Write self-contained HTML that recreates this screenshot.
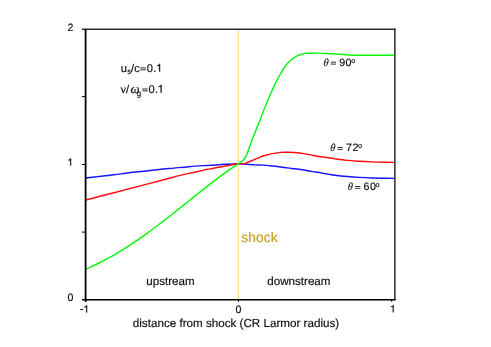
<!DOCTYPE html>
<html><head><meta charset="utf-8"><style>
html,body{margin:0;padding:0;background:#fff;}
svg{display:block;}
text{text-rendering:geometricPrecision;font-family:"Liberation Sans",sans-serif;fill:#111;stroke:#111;stroke-width:0.18px;}
.se{font-family:"Liberation Serif",serif;}
</style></head><body>
<svg style="will-change:transform" width="491" height="347" viewBox="0 0 491 347">
<rect width="491" height="347" fill="#fff"/>
<line x1="238.4" y1="29" x2="238.4" y2="299.5" stroke="#ffe28c" stroke-width="1.2"/>
<path d="M85.60,177.95 C88.00,177.69 95.27,176.93 100.00,176.40 C104.73,175.88 109.17,175.40 114.00,174.80 C118.83,174.20 124.00,173.40 129.00,172.80 C134.00,172.20 139.00,171.75 144.00,171.20 C149.00,170.65 154.00,170.02 159.00,169.50 C164.00,168.98 169.00,168.57 174.00,168.10 C179.00,167.63 184.00,167.11 189.00,166.70 C194.00,166.29 200.50,165.87 204.00,165.65 C207.50,165.43 206.50,165.62 210.00,165.40 C213.50,165.18 220.25,164.58 225.00,164.30 C229.75,164.02 234.83,163.70 238.50,163.70 C242.17,163.70 244.25,164.11 247.00,164.30 C249.75,164.49 252.23,164.72 255.00,164.85 C257.77,164.98 260.72,164.91 263.60,165.10 C266.48,165.29 269.42,165.68 272.30,166.00 C275.18,166.32 278.02,166.69 280.90,167.05 C283.78,167.41 287.25,167.86 289.60,168.15 C291.95,168.44 292.67,168.50 295.00,168.80 C297.33,169.10 300.72,169.48 303.60,169.95 C306.48,170.42 309.42,171.11 312.30,171.60 C315.18,172.09 318.02,172.43 320.90,172.90 C323.78,173.37 327.25,174.01 329.60,174.40 C331.95,174.79 332.07,174.90 335.00,175.25 C337.93,175.60 343.13,176.14 347.20,176.50 C351.27,176.86 355.32,177.15 359.40,177.40 C363.48,177.65 367.62,177.86 371.70,178.00 C375.78,178.14 380.10,178.19 383.90,178.25 C387.70,178.31 392.73,178.34 394.50,178.36" fill="none" stroke="#1414ff" stroke-width="1.45" stroke-linejoin="round"/>
<path d="M85.60,200.00 C88.00,199.38 95.27,197.52 100.00,196.30 C104.73,195.08 109.17,193.95 114.00,192.70 C118.83,191.45 124.00,190.10 129.00,188.80 C134.00,187.50 139.00,186.20 144.00,184.90 C149.00,183.60 154.00,182.32 159.00,181.00 C164.00,179.68 169.00,178.22 174.00,176.95 C179.00,175.68 184.00,174.54 189.00,173.40 C194.00,172.26 200.50,170.85 204.00,170.10 C207.50,169.35 206.50,169.58 210.00,168.90 C213.50,168.22 220.25,166.87 225.00,166.00 C229.75,165.13 235.83,164.05 238.50,163.70 C241.17,163.35 240.25,163.85 241.00,163.90 C241.75,163.95 242.33,164.05 243.00,164.00 C243.67,163.95 244.33,163.82 245.00,163.60 C245.67,163.38 246.33,163.02 247.00,162.70 C247.67,162.38 248.33,162.00 249.00,161.70 C249.67,161.40 250.00,161.30 251.00,160.90 C252.00,160.50 253.57,159.90 255.00,159.30 C256.43,158.70 258.17,157.88 259.60,157.30 C261.03,156.72 262.15,156.25 263.60,155.80 C265.05,155.35 266.85,154.96 268.30,154.60 C269.75,154.24 270.87,153.93 272.30,153.65 C273.73,153.37 275.47,153.11 276.90,152.90 C278.33,152.69 279.60,152.51 280.90,152.40 C282.20,152.29 283.25,152.28 284.70,152.25 C286.15,152.22 287.88,152.15 289.60,152.20 C291.32,152.25 292.67,152.32 295.00,152.55 C297.33,152.78 300.72,153.16 303.60,153.60 C306.48,154.04 309.42,154.68 312.30,155.20 C315.18,155.72 318.02,156.23 320.90,156.70 C323.78,157.17 327.25,157.64 329.60,158.00 C331.95,158.36 332.07,158.45 335.00,158.85 C337.93,159.25 343.13,160.00 347.20,160.40 C351.27,160.80 355.32,161.01 359.40,161.25 C363.48,161.49 367.62,161.69 371.70,161.85 C375.78,162.01 380.10,162.12 383.90,162.20 C387.70,162.28 392.73,162.32 394.50,162.35" fill="none" stroke="#ff0c0c" stroke-width="1.45" stroke-linejoin="round"/>
<path d="M85.60,269.34 C86.60,268.89 89.60,267.57 91.60,266.64 C93.60,265.71 95.60,264.75 97.60,263.76 C99.60,262.77 101.60,261.75 103.60,260.69 C105.60,259.64 107.60,258.56 109.60,257.44 C111.60,256.33 113.60,255.19 115.60,254.01 C117.60,252.84 119.60,251.64 121.60,250.41 C123.60,249.18 125.60,247.91 127.60,246.63 C129.60,245.34 131.60,244.03 133.60,242.69 C135.60,241.35 137.60,239.99 139.60,238.60 C141.60,237.21 143.60,235.80 145.60,234.36 C147.60,232.93 149.60,231.47 151.60,230.00 C153.60,228.53 155.60,227.03 157.60,225.52 C159.60,224.01 161.60,222.48 163.60,220.94 C165.60,219.40 167.60,217.84 169.60,216.27 C171.60,214.70 173.60,213.12 175.60,211.54 C177.60,209.95 179.60,208.35 181.60,206.76 C183.60,205.16 185.60,203.55 187.60,201.95 C189.60,200.35 191.60,198.74 193.60,197.14 C195.60,195.54 197.60,193.93 199.60,192.34 C201.60,190.75 203.60,189.17 205.60,187.60 C207.60,186.03 209.60,184.46 211.60,182.92 C213.60,181.38 215.60,179.85 217.60,178.35 C219.60,176.84 221.60,175.36 223.60,173.90 C225.60,172.45 227.60,171.01 229.60,169.62 C231.60,168.22 234.12,166.52 235.60,165.53 C237.08,164.54 237.68,164.24 238.50,163.70 C239.32,163.16 239.82,162.80 240.50,162.30 C241.18,161.80 242.02,161.22 242.60,160.70 C243.18,160.18 243.57,159.73 244.00,159.20 C244.43,158.67 244.83,158.05 245.20,157.50 C245.57,156.95 245.90,156.45 246.20,155.90 C246.50,155.35 246.72,154.92 247.00,154.20 C247.28,153.48 247.60,152.47 247.90,151.60 C248.20,150.73 248.45,149.97 248.80,149.00 C249.15,148.03 249.53,147.03 250.00,145.80 C250.47,144.57 250.79,143.77 251.60,141.60 C252.41,139.43 253.88,135.30 254.85,132.80 C255.82,130.30 256.56,128.65 257.40,126.60 C258.24,124.55 258.97,122.88 259.90,120.50 C260.83,118.12 261.98,114.97 263.00,112.30 C264.02,109.63 265.12,106.67 266.00,104.50 C266.88,102.33 267.43,101.30 268.30,99.30 C269.17,97.30 270.20,94.78 271.20,92.50 C272.20,90.22 273.28,87.77 274.30,85.60 C275.32,83.43 276.27,81.43 277.30,79.50 C278.33,77.57 279.33,76.00 280.50,74.00 C281.67,72.00 282.95,69.45 284.30,67.50 C285.65,65.55 287.15,63.82 288.60,62.30 C290.05,60.78 291.55,59.48 293.00,58.40 C294.45,57.32 295.87,56.48 297.30,55.80 C298.73,55.12 300.17,54.70 301.60,54.30 C303.03,53.90 304.46,53.58 305.90,53.40 C307.34,53.22 308.80,53.24 310.25,53.20 C311.70,53.16 312.98,53.16 314.60,53.15 C316.23,53.14 317.47,53.06 320.00,53.15 C322.53,53.24 326.55,53.51 329.80,53.70 C333.05,53.89 336.25,54.08 339.50,54.30 C342.75,54.52 346.03,54.83 349.30,55.00 C352.57,55.17 355.83,55.25 359.10,55.30 C362.37,55.35 363.00,55.30 368.90,55.30 C374.80,55.30 390.23,55.30 394.50,55.30" fill="none" stroke="#0cf60c" stroke-width="1.45" stroke-linejoin="round"/>
<!-- frame -->
<line x1="82" y1="29.2" x2="395.6" y2="29.2" stroke="#2a2a2a" stroke-width="1.45"/>
<line x1="394.85" y1="28.5" x2="394.85" y2="300.3" stroke="#3a3a3a" stroke-width="1.6"/>
<line x1="85.6" y1="28.9" x2="85.6" y2="301.7" stroke="#000" stroke-width="1.8"/>
<line x1="82" y1="299.65" x2="395.6" y2="299.65" stroke="#000" stroke-width="1.45"/>
<!-- ticks -->
<line x1="82" y1="96.6" x2="86" y2="96.6" stroke="#000" stroke-width="1"/>
<line x1="82" y1="164.5" x2="86" y2="164.5" stroke="#000" stroke-width="1"/>
<line x1="82" y1="232.1" x2="86" y2="232.1" stroke="#000" stroke-width="1"/>
<line x1="85.8" y1="299" x2="85.8" y2="301.5" stroke="#000" stroke-width="1.2"/>
<line x1="238.5" y1="299.6" x2="238.5" y2="301.8" stroke="#000" stroke-width="1"/>
<line x1="391.7" y1="299.6" x2="391.7" y2="301.8" stroke="#000" stroke-width="1"/>
<!-- axis labels -->
<g>
<text x="73.4" y="30.8" font-size="10.6" text-anchor="end">2</text>
<path d="M372,0 L284,0 L284,505 L102,505 L102,568 C220,572 290,610 312,709 L372,709 Z" fill="#111" stroke="#111" stroke-width="22" transform="translate(67.28,165.60) scale(0.01030,-0.01030)"/>
<text x="73.4" y="300.7" font-size="10.6" text-anchor="end">0</text>
<line x1="80.2" y1="309.5" x2="83.1" y2="309.5" stroke="#111" stroke-width="0.95"/><path d="M372,0 L284,0 L284,505 L102,505 L102,568 C220,572 290,610 312,709 L372,709 Z" fill="#111" stroke="#111" stroke-width="22" transform="translate(83.29,312.50) scale(0.01030,-0.01030)"/>
<text x="238.4" y="312.6" font-size="10.6" text-anchor="middle">0</text>
<path d="M372,0 L284,0 L284,505 L102,505 L102,568 C220,572 290,610 312,709 L372,709 Z" fill="#111" stroke="#111" stroke-width="22" transform="translate(389.82,312.30) scale(0.01030,-0.01030)"/>
<text x="236" y="327" font-size="11.65" text-anchor="middle">distance from shock (CR Larmor radius)</text>
<text x="146.3" y="285.2" font-size="11.6">upstream</text>
<text x="267.3" y="284.8" font-size="11.6">downstream</text>
<text x="241.3" y="242.3" font-size="13.8" letter-spacing="0.1" style="fill:#c9a227;stroke:#c9a227">shock</text>
<text y="71.8" font-size="11.2"><tspan x="120.7">u</tspan><tspan x="127.2" font-size="8" dy="2.6">s</tspan><tspan x="130.9" dy="-2.6">/</tspan><tspan x="134.2">c</tspan><tspan x="146.8">0</tspan><tspan x="153.2">.</tspan></text><path d="M140.3,67.9H145.9M140.3,69.8H145.9" stroke="#222" stroke-width="0.95" fill="none"/><path d="M372,0 L284,0 L284,505 L102,505 L102,568 C220,572 290,610 312,709 L372,709 Z" fill="#111" stroke="#111" stroke-width="22" transform="translate(155.93,71.60) scale(0.01120,-0.01120)"/>
<text y="92.7" font-size="11.2"><tspan x="120.5" class="se" font-size="12">ν</tspan><tspan x="126.0">/</tspan><tspan x="130.6" class="se" font-style="italic" font-size="12.8">ω</tspan><tspan x="136.8" font-size="8" dy="3.4">g</tspan><tspan x="148.6" dy="-3.4">0</tspan><tspan x="155.0">.</tspan></text><path d="M142.2,89.0H147.7M142.2,90.85H147.7" stroke="#222" stroke-width="0.95" fill="none"/><path d="M372,0 L284,0 L284,505 L102,505 L102,568 C220,572 290,610 312,709 L372,709 Z" fill="#111" stroke="#111" stroke-width="22" transform="translate(157.43,92.60) scale(0.01120,-0.01120)"/>
<text transform="translate(323.20,65.60) skewX(-4)" class="se" font-style="italic" font-size="10.6" style="stroke-width:0.1px">θ</text><path d="M330.70,62.20H336.00M330.70,64.10H336.00" stroke="#222" stroke-width="0.9" fill="none"/><text x="339.20" y="65.60" font-size="10.7" letter-spacing="0.45">90</text><text x="351.20" y="62.50" font-size="7.2">o</text>
<text transform="translate(330.00,150.90) skewX(-4)" class="se" font-style="italic" font-size="10.6" style="stroke-width:0.1px">θ</text><path d="M337.50,147.50H342.80M337.50,149.40H342.80" stroke="#222" stroke-width="0.9" fill="none"/><text x="346.00" y="150.90" font-size="10.7" letter-spacing="0.45">72</text><text x="358.00" y="147.80" font-size="7.2">o</text>
<text transform="translate(347.60,189.90) skewX(-4)" class="se" font-style="italic" font-size="10.6" style="stroke-width:0.1px">θ</text><path d="M355.10,186.50H360.40M355.10,188.40H360.40" stroke="#222" stroke-width="0.9" fill="none"/><text x="363.60" y="189.90" font-size="10.7" letter-spacing="0.45">60</text><text x="375.60" y="186.80" font-size="7.2">o</text>
</g>
</svg>
</body></html>
